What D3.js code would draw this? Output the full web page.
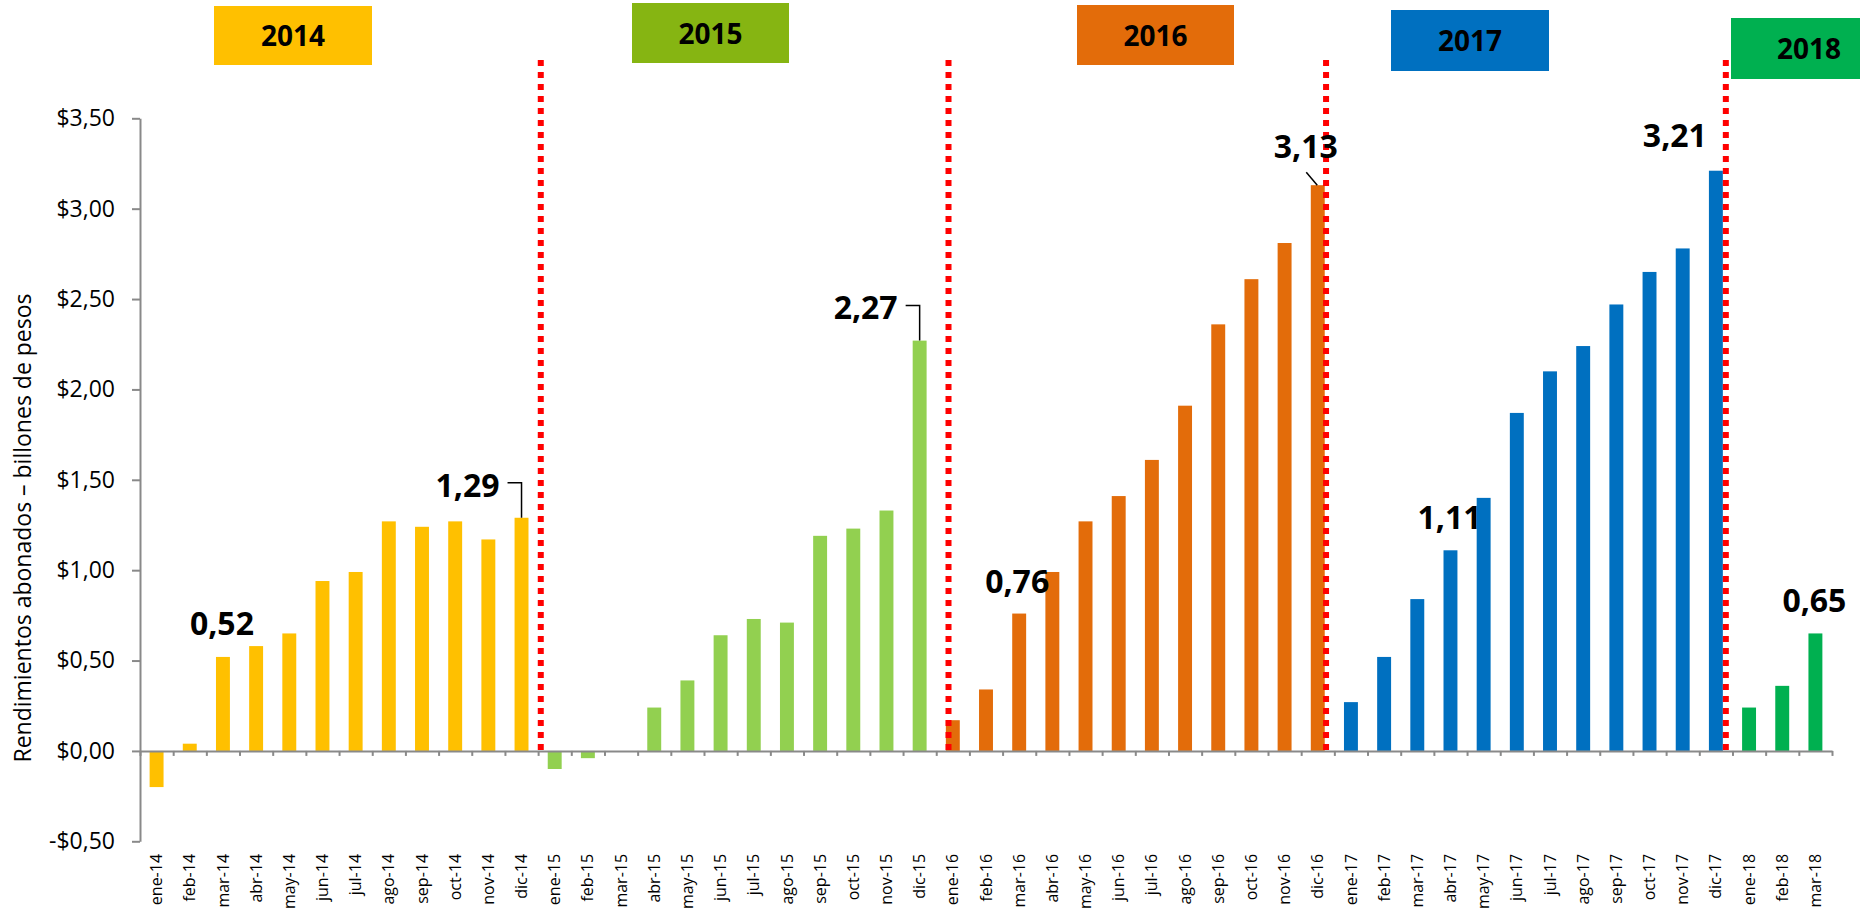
<!DOCTYPE html>
<html>
<head>
<meta charset="utf-8">
<script src="https://cdn.jsdelivr.net/npm/d3@7"></script>
<style>
  body { margin: 0; background: #fff; }
  svg { display: block; font-family: "Open Sans", sans-serif; }
  .axis path, .axis line { stroke: #898989; stroke-width: 2; }
</style>
</head>
<body>
<script>
// month labels and years
var months = ["ene", "feb", "mar", "abr", "may", "jun", "jul", "ago", "sep", "oct", "nov", "dic"];
var years = ["2014", "2015", "2016", "2017", "2018"];

// billions of pesos per month
var v2014 = [-0.20, 0.04, 0.52, 0.58, 0.65, 0.94, 0.99, 1.27, 1.24, 1.27, 1.17, 1.29];
var v2015 = [-0.10, -0.04, 0.00, 0.24, 0.39, 0.64, 0.73, 0.71, 1.19, 1.23, 1.33, 2.27];
var v2016 = [0.17, 0.34, 0.76, 0.99, 1.27, 1.41, 1.61, 1.91, 2.36, 2.61, 2.81, 3.13];
var v2017 = [0.27, 0.52, 0.84, 1.11, 1.40, 1.87, 2.10, 2.24, 2.47, 2.65, 2.78, 3.21];
var v2018 = [0.24, 0.36, 0.65];

var yTicks = [-0.5, 0, 0.5, 1, 1.5, 2, 2.5, 3, 3.5];

// highlighted values
var callouts = [
  {cat: "mar-14", label: "0,52"},
  {cat: "dic-14", label: "1,29"},
  {cat: "dic-15", label: "2,27"},
  {cat: "mar-16", label: "0,76"},
  {cat: "dic-16", label: "3,13"},
  {cat: "abr-17", label: "1,11"},
  {cat: "dic-17", label: "3,21"},
  {cat: "mar-18", label: "0,65"}
];

// year dividers come after these months
var dividers = ["dic-14", "dic-15", "dic-16", "dic-17"];

var barColor = {"2014": "#FFC000", "2015": "#92D050", "2016": "#E36C0A", "2017": "#0070C0", "2018": "#00B050"};
var boxColor = {"2014": "#FFC000", "2015": "#86B512", "2016": "#E36C0A", "2017": "#0070C0", "2018": "#00B050"};

// build the flat table
var series = [v2014, v2015, v2016, v2017, v2018];
var data = [];
series.forEach(function(vals, i) {
  vals.forEach(function(v, m) {
    data.push({cat: months[m] + "-" + years[i].slice(2), year: years[i], value: v});
  });
});
var categories = data.map(function(d) { return d.cat; });

var W = 1860, H = 911;
var plot = {left: 140, right: 1832, top: 118.3, bottom: 841.3};

var svg = d3.select("body").append("svg")
    .attr("width", W)
    .attr("height", H);

// scales
var x = d3.scaleBand().domain(categories).range([plot.left, plot.right])
    .paddingInner(0.58).paddingOuter(0.29);
var xEdge = d3.scaleLinear().domain([0, categories.length]).range([plot.left, plot.right]);
var y = d3.scaleLinear().domain([-0.5, 3.5]).range([plot.bottom, plot.top]);

// bars
svg.append("g").selectAll("rect")
  .data(data)
  .enter().append("rect")
    .attr("x", function(d) { return x(d.cat); })
    .attr("width", x.bandwidth())
    .attr("y", function(d) { return y(Math.max(0, d.value)); })
    .attr("height", function(d) { return Math.abs(y(d.value) - y(0)); })
    .attr("fill", function(d) { return barColor[d.year]; });

// x axis line + boundary ticks
svg.append("g")
    .attr("class", "axis")
    .attr("transform", "translate(0," + y(0) + ")")
    .call(d3.axisBottom(xEdge).tickValues(d3.range(0, categories.length + 1))
      .tickSize(5).tickSizeOuter(0).tickFormat(""));

// x labels, rotated
var xl = svg.append("g")
    .attr("transform", "translate(0," + y(0) + ")")
    .call(d3.axisBottom(x).tickSize(0))
    .attr("font-size", 16)
    .attr("font-family", null);
xl.select(".domain").remove();
xl.selectAll("text")
    .attr("transform", "rotate(-90)")
    .attr("x", -103)
    .attr("y", 0)
    .attr("dy", "0.35em")
    .attr("fill", "#000")
    .style("text-anchor", "end");

// y axis
var fmt = function(v) {
  return (v < 0 ? "-" : "") + "$" + d3.format(".2f")(Math.abs(v)).replace(".", ",");
};
var ya = svg.append("g")
    .attr("class", "axis")
    .attr("transform", "translate(" + plot.left + ",0)")
    .call(d3.axisLeft(y).tickValues(yTicks).tickSize(8).tickSizeOuter(0)
      .tickPadding(17).tickFormat(fmt))
    .attr("font-size", 23)
    .attr("font-family", null);
ya.selectAll("text").attr("fill", "#000");

// y title
svg.append("text")
    .attr("transform", "rotate(-90)")
    .attr("x", -528)
    .attr("y", 31)
    .attr("font-size", 23)
    .style("text-anchor", "middle")
    .text("Rendimientos abonados \u2013 billones de pesos");

// red dotted year dividers
var divShift = {"dic-14": 0.58, "dic-15": 0.87, "dic-16": 0.25, "dic-17": 0.30};
svg.append("g").selectAll("line")
  .data(dividers)
  .enter().append("line")
    .attr("x1", function(d) { return x(d) + x.bandwidth() / 2 + x.step() * divShift[d]; })
    .attr("x2", function(d) { return x(d) + x.bandwidth() / 2 + x.step() * divShift[d]; })
    .attr("y1", 60)
    .attr("y2", y(-0.025))
    .attr("stroke", "#FF0000")
    .attr("stroke-width", 6)
    .attr("stroke-dasharray", "6,6");

// year boxes on top
var boxes = {
  "2014": [214, 6, 158, 59, 0],
  "2015": [632, 3, 157, 60, 0],
  "2016": [1077, 5, 157, 60, 0],
  "2017": [1391, 10, 158, 61, 0],
  "2018": [1731, 18, 160, 61, -1]
};
var yb = svg.append("g").selectAll("g")
  .data(years)
  .enter().append("g")
    .attr("transform", function(d) { return "translate(" + boxes[d][0] + "," + boxes[d][1] + ")"; });
yb.append("rect")
    .attr("width", function(d) { return boxes[d][2]; })
    .attr("height", function(d) { return boxes[d][3]; })
    .attr("fill", function(d) { return boxColor[d]; });
yb.append("text")
    .attr("x", function(d) { return d === "2018" ? 78 : boxes[d][2] / 2; })
    .attr("y", function(d) { return boxes[d][3] / 2 + 1; })
    .attr("dy", "0.35em")
    .attr("font-size", 28)
    .attr("font-weight", "bold")
    .style("text-anchor", "middle")
    .text(function(d) { return d; });

// callout labels
var byCat = {};
data.forEach(function(d) { byCat[d.cat] = d; });
var place = {
  "mar-14": {dx: -1, dy: -22},
  "dic-14": {dx: -54, dy: -21, leader: "elbow"},
  "dic-15": {dx: -54, dy: -22, leader: "elbow"},
  "mar-16": {dx: -2, dy: -21},
  "dic-16": {dx: -12, dy: -27, leader: "slant"},
  "abr-17": {dx: -1, dy: -21},
  "dic-17": {dx: -41, dy: -24},
  "mar-18": {dx: -1, dy: -21}
};
var cg = svg.append("g");
callouts.forEach(function(c) {
  var cx = x(c.cat) + x.bandwidth() / 2;
  var top = y(byCat[c.cat].value);
  var p = place[c.cat];
  cg.append("text")
      .attr("x", cx + p.dx)
      .attr("y", top + p.dy)
      .attr("font-size", 32)
      .attr("font-weight", "bold")
      .style("text-anchor", "middle")
      .text(c.label);
  if (p.leader === "elbow") {
    cg.append("path")
        .attr("d", "M" + (cx + p.dx + 40) + "," + (top - 35) + "H" + cx + "V" + top)
        .attr("fill", "none")
        .attr("stroke", "#000")
        .attr("stroke-width", 1.5);
  } else if (p.leader === "slant") {
    cg.append("line")
        .attr("x1", cx - 11.5).attr("y1", top - 13)
        .attr("x2", cx - 0.5).attr("y2", top)
        .attr("stroke", "#000")
        .attr("stroke-width", 1.5);
  }
});
</script>
</body>
</html>
